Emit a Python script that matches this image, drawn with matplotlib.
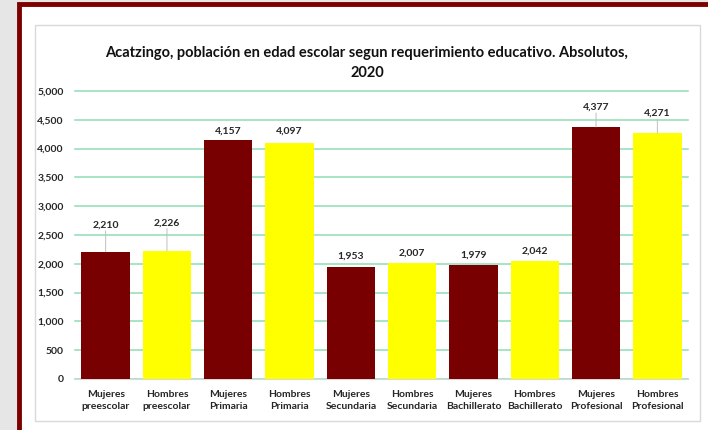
import matplotlib.pyplot as plt
from matplotlib.patches import Rectangle

plt.rcParams['font.family'] = ['Lato', 'DejaVu Sans']

# data
categories = ['Mujeres\npreescolar', 'Hombres\npreescolar', 'Mujeres\nPrimaria',
              'Hombres\nPrimaria', 'Mujeres\nSecundaria', 'Hombres\nSecundaria',
              'Mujeres\nBachillerato', 'Hombres\nBachillerato', 'Mujeres\nProfesional',
              'Hombres\nProfesional']
values = [2210, 2226, 4157, 4097, 1953, 2007, 1979, 2042, 4377, 4271]
yticks = [0, 500, 1000, 1500, 2000, 2500, 3000, 3500, 4000, 4500, 5000]
title = ('Acatzingo, población en edad escolar segun requerimiento educativo. '
         'Absolutos,\n2020')

# label placement (points above bar top), leader line where far away
label_offsets = [16, 17, 3, 5, 4, 4, 4, 4, 11, 11]
leader = [True, True, False, False, False, False, False, False, True, True]

colors = ['#780000', '#ffff00'] * 5

fig = plt.figure(figsize=(7.08, 4.30), dpi=100)
fig.patch.set_facecolor('#e6e6e6')

# red frame and white panel
W, H = 708.0, 430.0
fig.patches.append(Rectangle((19 / W, -0.1), 1, 1.1 - 4 / H, transform=fig.transFigure,
                             facecolor='white', edgecolor='#7d0000', linewidth=3.5,
                             zorder=-2))
fig.patches.append(Rectangle((35 / W, 1 - 421 / H), (700 - 35) / W, (421 - 25) / H,
                             transform=fig.transFigure, facecolor='white',
                             edgecolor='#d9d9d9', linewidth=1, zorder=-1))

ax = fig.add_axes([75 / W, 1 - 379 / H, (688 - 75) / W, (379 - 91) / H])
ax.set_facecolor('none')

x = range(len(values))
ax.bar(x, values, width=0.79, color=colors, zorder=3)

ax.set_xlim(-0.5, len(values) - 0.5)
ax.set_ylim(0, 5000)
ax.set_yticks(yticks)
ax.set_yticklabels([f'{v:,}' for v in yticks], fontsize=7.5, fontweight='bold',
                   color='#262626')
ax.set_xticks(list(x))
ax.set_xticklabels(categories, fontsize=7.5, fontweight='bold', color='#262626',
                   linespacing=1.45)
ax.tick_params(axis='both', length=0)
ax.tick_params(axis='y', pad=8)
ax.tick_params(axis='x', pad=8)

ax.yaxis.grid(True, color='#8fdcb4', linewidth=1.1, zorder=0)
for gl in ax.get_ygridlines():
    gl.set_clip_on(False)
ax.set_axisbelow(True)
for s in ['top', 'right', 'left']:
    ax.spines[s].set_visible(False)
ax.spines['bottom'].set_color('#d9d9d9')

for i, v in enumerate(values):
    ax.annotate(f'{v:,}', xy=(i, v), xytext=(0, label_offsets[i]),
                textcoords='offset points', ha='center', va='bottom',
                fontsize=7.5, fontweight='bold', color='#262626', zorder=4)
    if leader[i]:
        ax.annotate('', xy=(i, v), xytext=(0, label_offsets[i] - 1),
                    textcoords='offset points',
                    arrowprops=dict(arrowstyle='-', color='#bfbfbf', lw=0.7,
                                    shrinkA=0, shrinkB=0))

fig.text(367 / W, 1 - 63 / H, title, ha='center', va='center', fontsize=10.5,
         fontweight='bold', color='#111111', linespacing=1.5)

fig.savefig('out.png', dpi=100, facecolor=fig.get_facecolor())
